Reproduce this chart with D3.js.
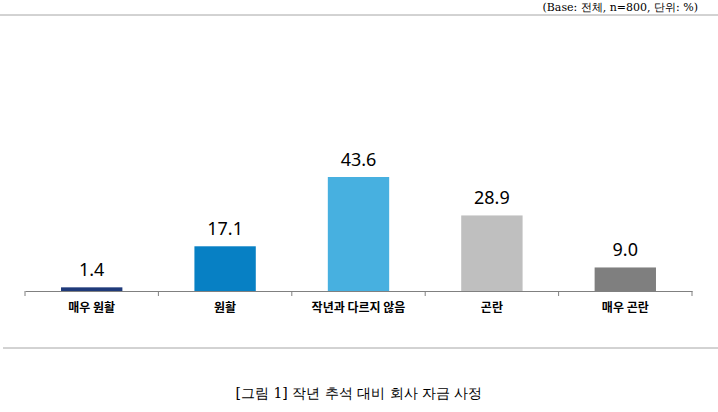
<!DOCTYPE html>
<html><head><meta charset="utf-8">
<script src="https://cdn.jsdelivr.net/npm/d3@7"></script>
<style>body{margin:0;background:#fff}</style>
</head><body>
<script>
var categories = ["매우 원활", "원활", "작년과 다르지 않음", "곤란", "매우 곤란"];
var values = [1.4, 17.1, 43.6, 28.9, 9.0];
var barColors = ["#1f3a7a", "#0780c4", "#47b0e0", "#bfbfbf", "#7f7f7f"];

var svg = d3.select("body").append("svg").attr("width", 718).attr("height", 412);

var x = d3.scaleBand().domain(categories).range([25, 692]).paddingInner(0.54).paddingOuter(0.27);
var y = d3.scaleLinear().domain([0, 43.6]).range([291, 177]);

// top rule and note
svg.append("line").attr("x1", 0).attr("x2", 718).attr("y1", 15).attr("y2", 15)
  .attr("stroke", "#a6a6a6");
svg.append("text").attr("x", 698).attr("y", 11).attr("text-anchor", "end")
  .style("font-family", "'DejaVu Serif', serif").style("font-size", "11px")
  .text("(Base: 전체, n=800, 단위: %)");

svg.selectAll("rect.bar").data(values).enter().append("rect")
  .attr("class", "bar")
  .attr("x", function(d, i){return x(categories[i]);})
  .attr("width", x.bandwidth())
  .attr("y", function(d){return y(d);})
  .attr("height", function(d){return y(0) - y(d);})
  .attr("fill", function(d, i){return barColors[i];});

svg.selectAll("text.val").data(values).enter().append("text")
  .attr("class", "val")
  .attr("x", function(d, i){return x(categories[i]) + x.bandwidth() / 2;})
  .attr("y", function(d){return y(d) - 11;})
  .attr("text-anchor", "middle")
  .style("font-family", "'Noto Sans', sans-serif").style("font-size", "18px")
  .text(function(d){return d.toFixed(1);});

var axis = d3.axisBottom(x).tickSize(0).tickPadding(12);
var g = svg.append("g").attr("transform", "translate(0,291)").call(axis);
g.select(".domain").attr("stroke", "#808080");
g.selectAll("text").style("font-family", "'Noto Sans CJK KR', sans-serif")
  .style("font-size", "12px").style("font-weight", "bold").attr("fill", "#000");
var step = x.step();
var bounds = d3.range(6).map(function(i){return 25 + i * (667 / 5);});
g.selectAll("line.sep").data(bounds).enter().append("line").attr("class", "sep")
  .attr("x1", function(d){return d;}).attr("x2", function(d){return d;})
  .attr("y1", 0).attr("y2", 5).attr("stroke", "#808080");

svg.append("line").attr("x1", 3).attr("x2", 718).attr("y1", 348).attr("y2", 348)
  .attr("stroke", "#a6a6a6");
svg.append("text").attr("x", 359).attr("y", 398).attr("text-anchor", "middle")
  .style("font-family", "'DejaVu Serif', serif").style("font-size", "14px")
  .text("[그림 1] 작년 추석 대비 회사 자금 사정");
</script>
</body></html>
